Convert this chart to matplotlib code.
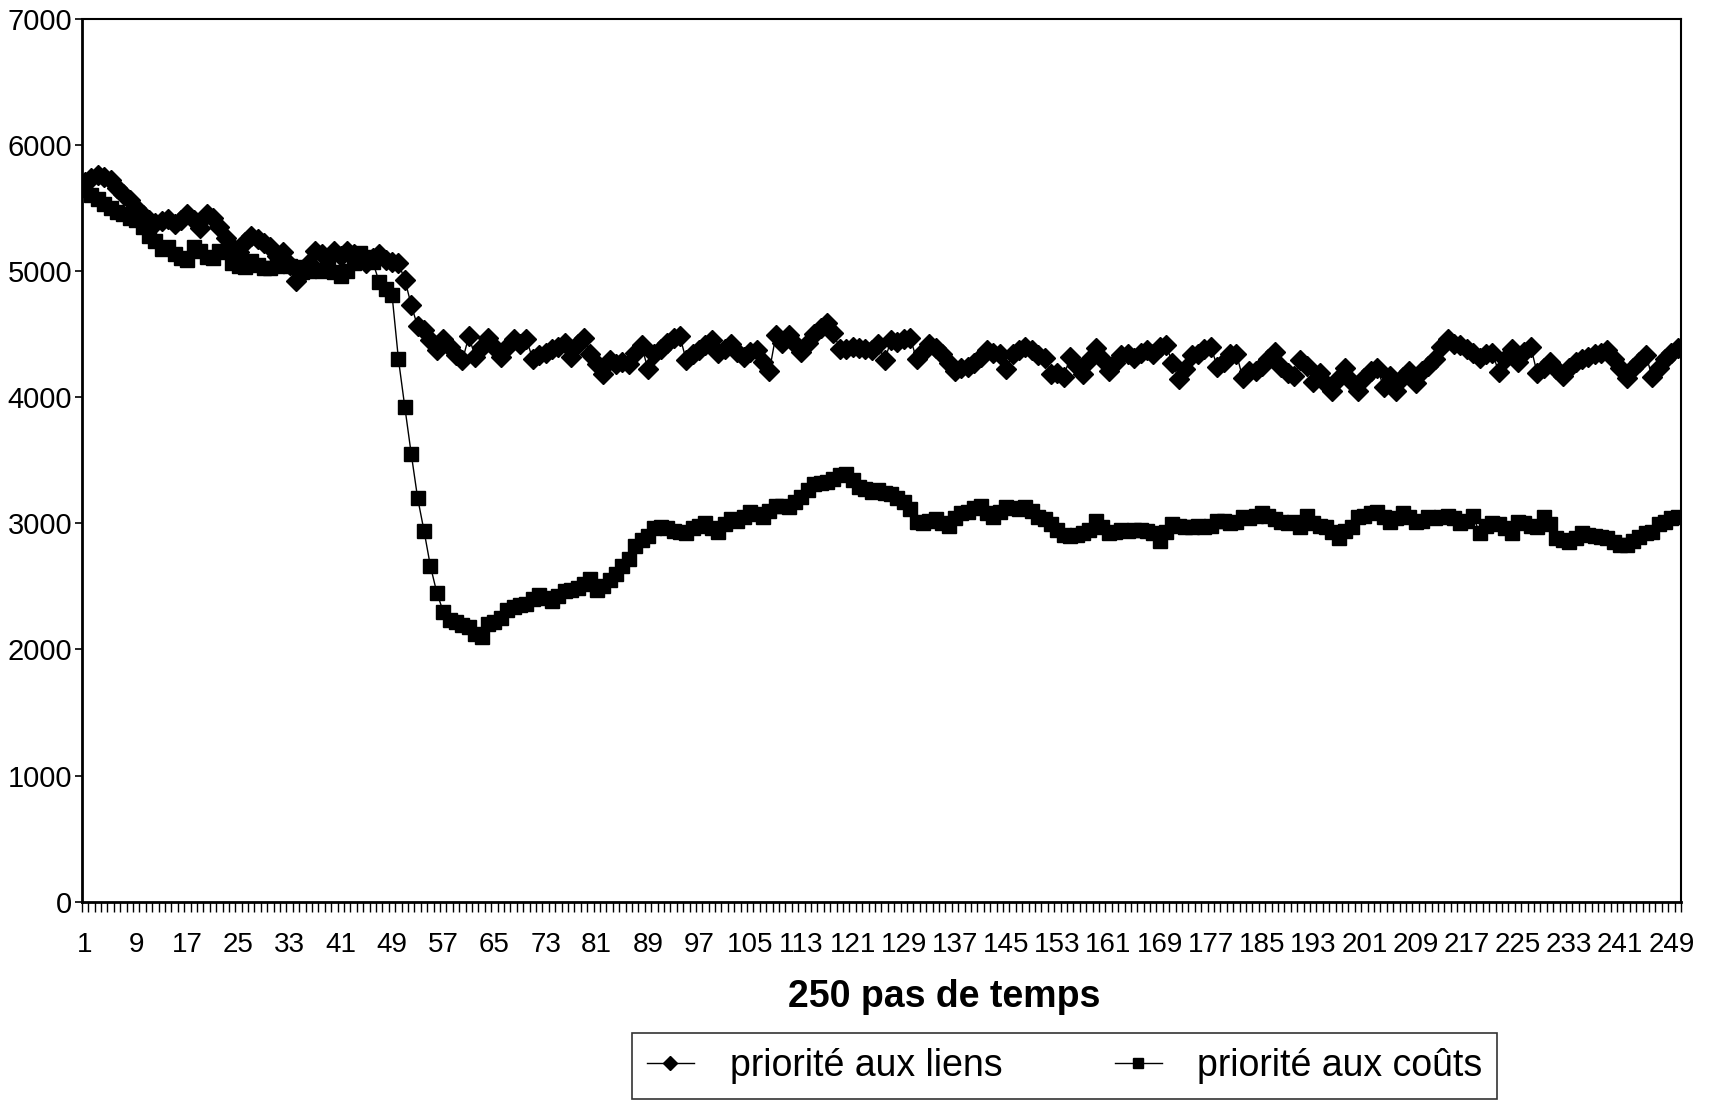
#!/usr/bin/env python

import matplotlib
matplotlib.use('Agg')
import matplotlib.pyplot as plt
import numpy as np


steps = np.arange(1, 251)

liens = [
    5705, 5740, 5758, 5745, 5720, 5660, 5610, 5560, 5500, 5440,
    5400, 5380, 5395, 5410, 5370, 5400, 5450, 5400, 5340, 5450,
    5420, 5350, 5260, 5190, 5150, 5230, 5280, 5250, 5220, 5190,
    5120, 5150, 5050, 4920, 4980, 5060, 5160, 5130, 5100, 5160,
    5120, 5160, 5130, 5100, 5060, 5100, 5130, 5090, 5070, 5060,
    4930, 4730, 4560, 4530, 4450, 4370, 4460, 4400, 4330, 4290,
    4480, 4320, 4400, 4470, 4400, 4320, 4400, 4460, 4420, 4460,
    4300, 4330, 4350, 4380, 4400, 4430, 4320, 4420, 4470, 4340,
    4260, 4180, 4290, 4260, 4280, 4260, 4350, 4410, 4220, 4340,
    4380, 4430, 4470, 4480, 4290, 4340, 4370, 4410, 4450, 4350,
    4380, 4420, 4360, 4320, 4360, 4370, 4280, 4210, 4490, 4430,
    4490, 4420, 4360, 4430, 4500, 4550, 4590, 4510, 4380, 4380,
    4400, 4390, 4380, 4370, 4420, 4290, 4450, 4440, 4460, 4470,
    4300, 4360, 4420, 4390, 4340, 4270, 4210, 4230, 4240, 4270,
    4320, 4370, 4350, 4340, 4220, 4340, 4370, 4400, 4370, 4330,
    4310, 4180, 4190, 4160, 4320, 4250, 4180, 4290, 4390, 4300,
    4210, 4270, 4330, 4340, 4310, 4350, 4370, 4340, 4400, 4410,
    4270, 4140, 4220, 4330, 4340, 4380, 4400, 4240, 4280, 4340,
    4340, 4150, 4210, 4210, 4250, 4300, 4360, 4240, 4190, 4170,
    4290, 4250, 4120, 4190, 4100, 4050, 4150, 4230, 4120, 4050,
    4150, 4210, 4230, 4080, 4170, 4050, 4160, 4210, 4110, 4210,
    4250, 4300, 4400, 4460, 4420, 4410, 4380, 4350, 4310, 4340,
    4350, 4200, 4300, 4380, 4280, 4360, 4400, 4190, 4230, 4280,
    4220, 4170, 4230, 4280, 4300, 4320, 4340, 4350, 4370, 4300,
    4230, 4150, 4230, 4280, 4330, 4160, 4230, 4300, 4350, 4390,
]

couts = [
    5640, 5600, 5570, 5530, 5500, 5470, 5450, 5420, 5400, 5350,
    5280, 5240, 5170, 5190, 5130, 5100, 5090, 5190, 5160, 5110,
    5100, 5160, 5150, 5060, 5040, 5030, 5080, 5050, 5020, 5020,
    5040, 5060, 5040, 5030, 4990, 5000, 5010, 5000, 5020, 4990,
    4960, 5000, 5060, 5140, 5110, 5070, 4910, 4860, 4810, 4300,
    3920, 3550, 3200, 2940, 2660, 2450, 2300, 2230, 2220, 2190,
    2180, 2120, 2100, 2200, 2220, 2250, 2310, 2340, 2350, 2360,
    2400, 2430, 2410, 2380, 2420, 2460, 2470, 2490, 2520, 2560,
    2470, 2500, 2550, 2600, 2660, 2720, 2820, 2870, 2900, 2960,
    2970, 2960, 2940, 2930, 2920, 2960, 2980, 3000, 2960, 2930,
    2990, 3030, 3020, 3050, 3090, 3070, 3050, 3100, 3140, 3140,
    3130, 3170, 3210, 3260, 3310, 3320, 3330, 3350, 3380, 3390,
    3340, 3290, 3270, 3250, 3260, 3240, 3230, 3200, 3170, 3110,
    3010, 3000, 3020, 3030, 3000, 2980, 3040, 3080, 3090, 3120,
    3140, 3080, 3050, 3090, 3130, 3120, 3110, 3130, 3100, 3050,
    3030, 2990, 2950, 2910, 2900, 2910, 2920, 2950, 3020, 2970,
    2920, 2930, 2950, 2940, 2950, 2950, 2940, 2920, 2860, 2930,
    2990, 2980, 2970, 2970, 2980, 2970, 2980, 3020, 3020, 3000,
    3010, 3050, 3040, 3060, 3080, 3060, 3030, 3010, 3000, 3010,
    2970, 3060, 3000, 2980, 2970, 2930, 2880, 2940, 2970, 3050,
    3060, 3080, 3090, 3050, 3010, 3040, 3080, 3050, 3010, 3020,
    3050, 3040, 3050, 3060, 3040, 3000, 3020, 3060, 2920, 2980,
    3000, 2990, 2960, 2920, 3010, 3000, 2980, 2970, 3050, 2990,
    2880, 2870, 2850, 2880, 2920, 2910, 2900, 2890, 2880, 2850,
    2830, 2830, 2860, 2890, 2920, 2930, 2990, 3010, 3040, 3050,
]

label_steps = list(range(1, 250, 8))

plt.rcParams['font.family'] = ['Liberation Sans', 'DejaVu Sans']

fig = plt.figure(figsize=(17.18, 11.04), dpi=100)
ax = fig.add_axes([0.0476, 0.1832, 0.9309, 0.8000])

ax.plot(steps, liens, color='black', linewidth=1.0, marker='D',
        markersize=10.5, markerfacecolor='black', markeredgecolor='black',
        label='priorité aux liens')
ax.plot(steps, couts, color='black', linewidth=1.0, marker='s',
        markersize=10, markerfacecolor='black', markeredgecolor='black',
        label='priorité aux coûts')

ax.set_xlim(0.5, 250.5)
ax.set_ylim(0, 7000)

ax.set_yticks(range(0, 7001, 1000))
ax.tick_params(axis='y', direction='out', length=5, width=1.2,
               labelsize=21, pad=2)

# labels sit on categories, tick marks between them
ax.set_xticks(label_steps)
ax.set_xticklabels([str(s) for s in label_steps])
ax.set_xticks(np.arange(0.5, 251, 1), minor=True)
ax.tick_params(axis='x', which='major', length=0, labelsize=20, pad=22)
ax.tick_params(axis='x', which='minor', direction='out', length=7, width=1.0)

for side in ['left', 'bottom']:
    ax.spines[side].set_linewidth(2.0)
for side in ['top', 'right']:
    ax.spines[side].set_linewidth(1.5)

fig.text(944 / 1718, 1 - 997 / 1104, '250 pas de temps', ha='center',
         va='center', fontsize=27, fontweight='bold')

leg = ax.legend(loc='upper left', bbox_to_anchor=(632 / 1718, 1 - 1033 / 1104),
                bbox_transform=fig.transFigure, ncol=2, fontsize=27,
                frameon=True, fancybox=False, edgecolor='black',
                borderpad=0.4, borderaxespad=0, handlelength=1.25,
                handletextpad=0.95, columnspacing=3.0, markerscale=0.7)
leg.get_frame().set_linewidth(1.2)

fig.savefig('out.png', dpi=100, facecolor='white')
